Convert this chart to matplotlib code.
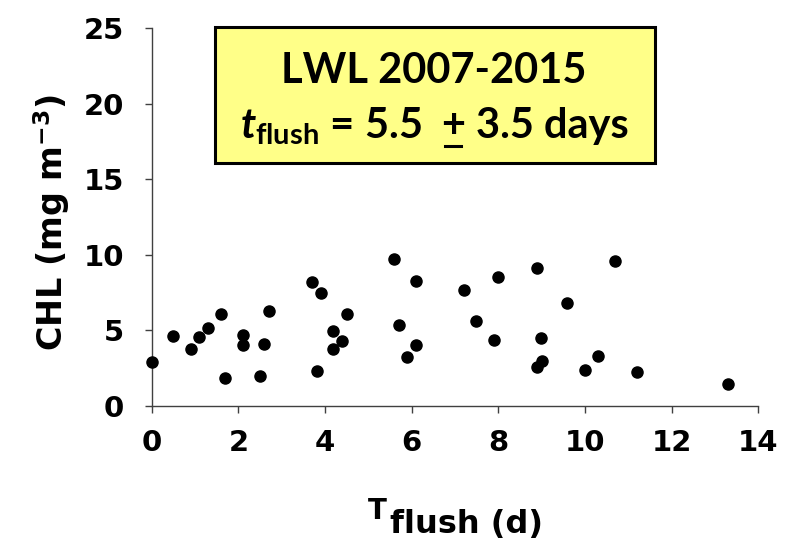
import matplotlib
matplotlib.use("Agg")
import matplotlib.pyplot as plt
from matplotlib.lines import Line2D

# flushing time (d) vs chlorophyll (mg m-3), LWL 2007-2015
t_flush = [0.0, 0.5, 0.9, 1.1, 1.31, 1.6, 1.7, 2.1, 2.1, 2.5, 2.6, 2.71,
           3.7, 3.9, 3.81, 4.19, 4.19, 4.4, 4.5,
           5.6, 6.1, 5.7, 6.1, 5.9, 7.2, 8.0, 7.49, 7.9, 8.9, 9.59, 8.99, 9.0, 8.89,
           10.7, 9.99, 10.3, 11.19, 13.29]
chl = [2.87, 4.59, 3.73, 4.52, 5.12, 6.08, 1.85, 4.66, 4.03, 1.94, 4.06, 6.24,
       8.18, 7.45, 2.31, 4.96, 3.73, 4.26, 6.08,
       9.70, 8.23, 5.36, 4.03, 3.22, 7.67, 8.53, 5.60, 4.37, 9.09, 6.77, 4.46, 2.98, 2.56,
       9.57, 2.34, 3.31, 2.21, 1.46]

# the odd olive point sitting inside the label box
extra_x = [4.18]
extra_y = [20.5]

plt.rcParams['mathtext.fontset'] = 'custom'
plt.rcParams['mathtext.rm'] = 'DejaVu Sans:bold'
plt.rcParams['mathtext.it'] = 'Lato:italic:bold'
plt.rcParams['mathtext.bf'] = 'Lato:bold'

W, H = 788, 540
fig = plt.figure(figsize=(W / 100, H / 100), dpi=100)
ax = fig.add_axes([151.7 / W, 1 - 405.7 / H, 606.6 / W, 377.7 / H])

ax.scatter(t_flush, chl, s=64, color='black', zorder=3, clip_on=False)

ax.set_xlim(0, 14)
ax.set_ylim(0, 25)
ax.set_xticks(range(0, 15, 2))
ax.set_yticks(range(0, 26, 5))

for side in ['top', 'right']:
    ax.spines[side].set_visible(False)
for side in ['left', 'bottom']:
    ax.spines[side].set_color('#404040')
    ax.spines[side].set_linewidth(1.0)

ax.tick_params(direction='out', length=5, width=1, color='#404040', labelsize=21)
ax.tick_params(axis='x', pad=12)
ax.tick_params(axis='y', pad=15)
for lab in ax.get_xticklabels() + ax.get_yticklabels():
    lab.set_fontfamily('DejaVu Sans')
    lab.set_fontweight('bold')

# axis titles placed by hand (T is smaller and raised above "flush (d)")
fig.text(52 / W, 1 - 223 / H, r'CHL (mg m$^{\mathrm{-3}}$)', rotation=90,
         ha='center', va='center', fontsize=24, fontfamily='DejaVu Sans',
         fontweight='bold')
fig.text(368 / W, 1 - 519 / H, 'T', ha='left', va='baseline', fontsize=20,
         fontfamily='DejaVu Sans', fontweight='bold')
fig.text(390 / W, 1 - 533 / H, 'flush (d)', ha='left', va='baseline', fontsize=23,
         fontfamily='DejaVu Sans', fontweight='bold')

# label box
box = plt.Rectangle((215 / W, 1 - 163 / H), 440 / W, 136 / H,
                    transform=fig.transFigure, facecolor='#ffff88',
                    edgecolor='black', linewidth=2.2, zorder=1)
fig.patches.append(box)
kw = dict(va='baseline', fontsize=30, fontfamily='Lato', fontweight='bold', zorder=2)
fig.text(434 / W, 1 - 83 / H, 'LWL 2007-2015', ha='center', **kw)
fig.text(422 / W, 1 - 138 / H, r'$\mathit{t}_{\mathbf{flush}}$ = 5.5', ha='right', **kw)
fig.text(453 / W, 1 - 138 / H, '+', ha='center', **kw)
fig.text(476 / W, 1 - 138 / H, '3.5 days', ha='left', **kw)
fig.lines.append(Line2D([445 / W, 461 / W], [1 - 146 / H, 1 - 146 / H],
                        transform=fig.transFigure, color='black', linewidth=2.2, zorder=2))

ax.scatter(extra_x, extra_y, s=28, color='#7f7a00', zorder=5, clip_on=False)

fig.savefig('out.png', dpi=100)
